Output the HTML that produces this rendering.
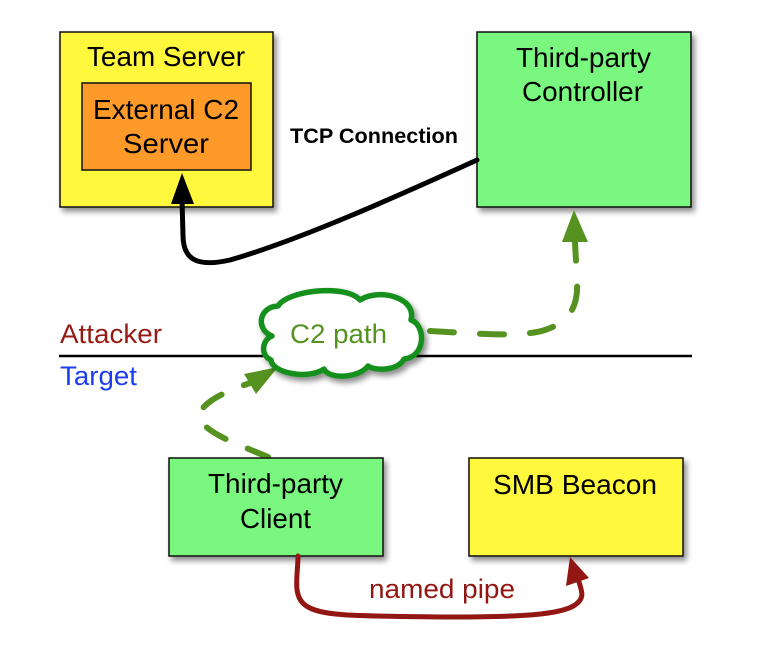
<!DOCTYPE html>
<html><head><meta charset="utf-8"><style>
html,body{margin:0;padding:0;background:#fff;}
svg{display:block;}
text{font-family:"Liberation Sans",Arial,sans-serif;}
</style></head><body>
<svg width="758" height="646" viewBox="0 0 758 646" xmlns="http://www.w3.org/2000/svg">
<defs>
<filter id="sh" x="-20%" y="-20%" width="150%" height="150%">
<feDropShadow dx="3" dy="4" stdDeviation="3" flood-color="#000" flood-opacity="0.45"/>
</filter>
</defs>
<rect width="758" height="646" fill="#fff"/>

<!-- Team Server -->
<rect x="60" y="32" width="213" height="175" fill="#fff83c" stroke="#111" stroke-width="1.5" filter="url(#sh)"/>
<rect x="82" y="83" width="169" height="87" fill="#fd9a29" stroke="#111" stroke-width="1.5"/>
<text x="166" y="66" font-size="28" text-anchor="middle" textLength="158" lengthAdjust="spacingAndGlyphs" fill="#000">Team Server</text>
<text x="166" y="119" font-size="28" text-anchor="middle" textLength="146" lengthAdjust="spacingAndGlyphs" fill="#000">External C2</text>
<text x="166" y="153" font-size="28" text-anchor="middle" textLength="86" lengthAdjust="spacingAndGlyphs" fill="#000">Server</text>

<!-- Third-party Controller -->
<rect x="477" y="32" width="214" height="175" fill="#7af77e" stroke="#111" stroke-width="1.5" filter="url(#sh)"/>
<text x="583.5" y="67" font-size="28" text-anchor="middle" textLength="135" lengthAdjust="spacingAndGlyphs" fill="#000">Third-party</text>
<text x="582.5" y="101" font-size="28" text-anchor="middle" textLength="121" lengthAdjust="spacingAndGlyphs" fill="#000">Controller</text>

<!-- TCP -->
<text x="290" y="143" font-size="21" font-weight="bold" textLength="168" lengthAdjust="spacingAndGlyphs" fill="#000">TCP Connection</text>
<path d="M477 160 C400 195, 300 240, 230 260 C195 268, 183 258, 183 235 L182 200" fill="none" stroke="#000" stroke-width="5" stroke-linecap="round"/>
<polygon points="182,173 171,204 194,204" fill="#000"/>

<!-- Attacker/Target line -->
<line x1="59" y1="356" x2="692" y2="356" stroke="#000" stroke-width="2.5"/>
<text x="60" y="343" font-size="27" textLength="102" lengthAdjust="spacingAndGlyphs" fill="#961a14">Attacker</text>
<text x="60" y="385" font-size="27" textLength="77" lengthAdjust="spacingAndGlyphs" fill="#1c3cf0">Target</text>

<!-- dashed cloud -> controller -->
<path d="M430 331 C470 333, 520 338, 545 330 C575 320, 578 300, 577 280 L575 242" fill="none" stroke="#56921f" stroke-width="6" stroke-linecap="round" stroke-dasharray="24 26"/>
<polygon points="574,210 562,242 588,242" fill="#56921f"/>

<!-- dashed client -> cloud -->
<path d="M268 457 C240 445, 195 430, 200 413 C205 400, 230 390, 250 383" fill="none" stroke="#56921f" stroke-width="6" stroke-linecap="round" stroke-dasharray="22 24"/>
<polygon points="278,367 244,374 256,394" fill="#56921f"/>

<!-- Cloud -->
<path d="M272 336 C256 330, 258 307, 278 306 C288 290, 346 284, 360 300 C378 288, 417 297, 411 320 C426 325, 426 357, 404 359 C398 371, 375 371, 368 366 C358 379, 328 379, 324 369 C308 380, 272 373, 271 360 C260 355, 262 340, 272 336 Z" fill="#fff" stroke="#17901e" stroke-width="5.5" stroke-linejoin="round" filter="url(#sh)"/>
<text x="338.5" y="343" font-size="27" text-anchor="middle" textLength="97" lengthAdjust="spacingAndGlyphs" fill="#55921f">C2 path</text>

<!-- Third-party Client -->
<rect x="169" y="458" width="214" height="98" fill="#7af77e" stroke="#111" stroke-width="1.5" filter="url(#sh)"/>
<text x="275.5" y="493" font-size="28" text-anchor="middle" textLength="135" lengthAdjust="spacingAndGlyphs" fill="#000">Third-party</text>
<text x="275.5" y="528" font-size="28" text-anchor="middle" textLength="71" lengthAdjust="spacingAndGlyphs" fill="#000">Client</text>

<!-- SMB Beacon -->
<rect x="469" y="458" width="214" height="98" fill="#fff83c" stroke="#111" stroke-width="1.5" filter="url(#sh)"/>
<text x="575" y="494" font-size="28" text-anchor="middle" textLength="164" lengthAdjust="spacingAndGlyphs" fill="#000">SMB Beacon</text>

<!-- named pipe -->
<path d="M298 556 C298 575, 292 595, 305 605 C320 617, 360 616, 450 617 C520 617, 560 615, 575 605 C585 598, 582 592, 579 582" fill="none" stroke="#921612" stroke-width="5" stroke-linecap="round"/>
<polygon points="570,557 566,586 589,578" fill="#921612"/>
<text x="442" y="598" font-size="27" text-anchor="middle" textLength="146" lengthAdjust="spacingAndGlyphs" fill="#921612">named pipe</text>
</svg>
</body></html>
